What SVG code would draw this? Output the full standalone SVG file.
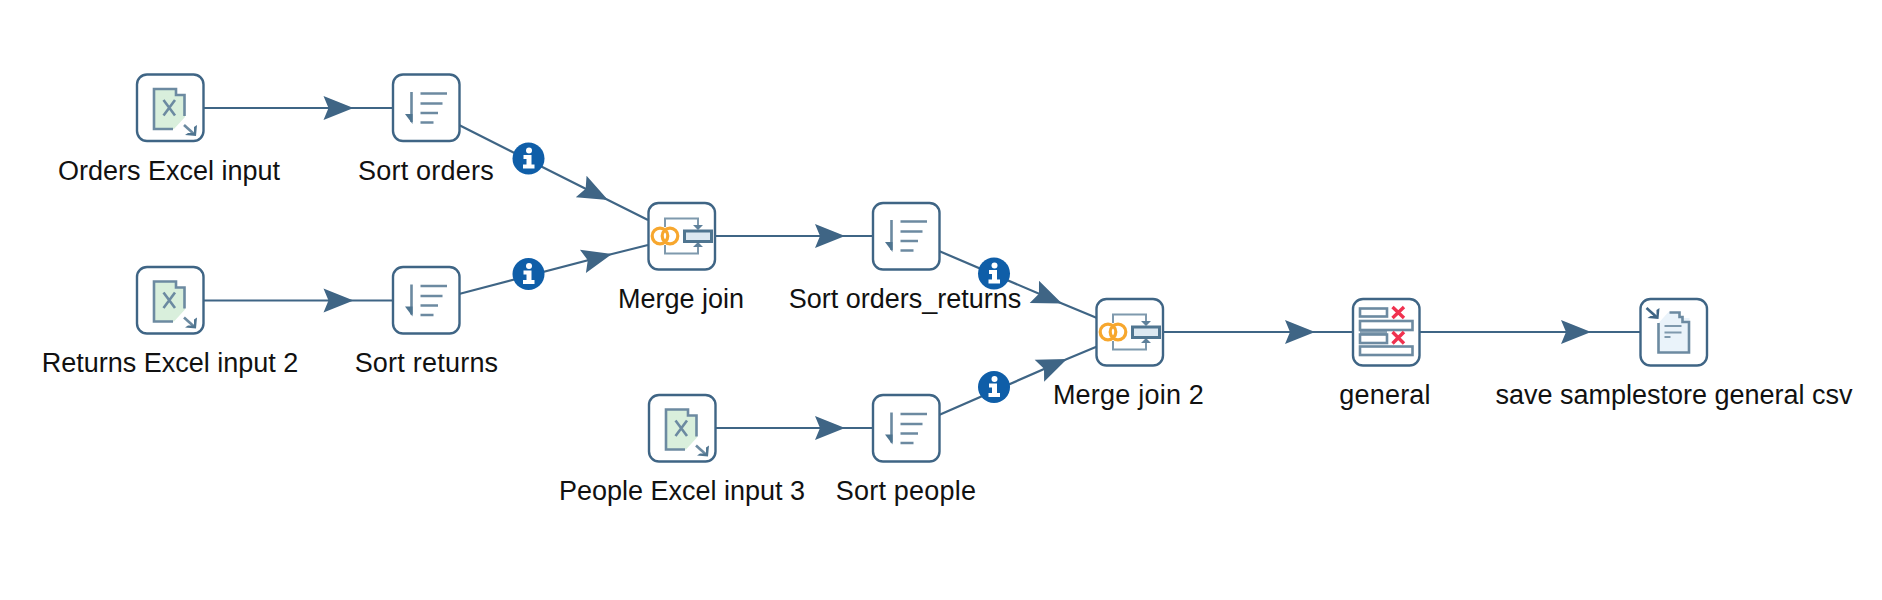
<svg xmlns="http://www.w3.org/2000/svg" width="1882" height="600" viewBox="0 0 1882 600">
<style>
.box{fill:#fff;stroke:#3f6585;stroke-width:2.4}
.lbl{font-family:"Liberation Sans",Arial,sans-serif;font-size:27px;fill:#111;text-anchor:middle}
.sp{letter-spacing:.22px}
.conn{fill:none;stroke:#3f6585;stroke-width:2.2;marker-mid:url(#arrow)}
.ic{fill:none;stroke:#3f6585;stroke-width:2.6}
.il{fill:none;stroke:#6c8aa1;stroke-width:2.6}
.ict{fill:none;stroke:#7f99ad;stroke-width:2}
.ia{fill:#3f6585;stroke:none}
.info{fill:#0f5ea8}
.infot{fill:#fff}
</style>
<defs>
<filter id="soft" x="-10%" y="-10%" width="120%" height="120%"><feGaussianBlur stdDeviation="0.7"/></filter>
<marker id="arrow" markerUnits="userSpaceOnUse" markerWidth="34" markerHeight="28" refX="31" refY="14" orient="auto">
<path d="M31 14L1 2L6 14L1 26Z" fill="#3f6585"/>
</marker>
<symbol id="s-info" overflow="visible">
<circle class="info" r="16"/>
<circle class="infot" cx="0.500" cy="-8" r="3"/>
<path class="infot" d="M-5-3.500H3V6H6V10H-5.500V6H-2V0.500H-5Z"/>
</symbol>
<symbol id="s-excel" overflow="visible"><g filter="url(#soft)">
<path d="M-17-19H6V-13H15V9L4 21H-17Z" fill="#d9efdc"/>
<path class="il" d="M3 21H-16V-19H6V-13H14.500V8"/>
<path d="M-6.500-8L5 7.500M5-8L-6.500 7.500" class="il"/>
<path class="il" d="M14 17L24 26"/>
<path d="M26 28L15 27L18 25L24 25L24 19L27 17Z" fill="#4f7490"/>
</g></symbol>
<symbol id="s-sort" overflow="visible"><g filter="url(#soft)">
<path class="il" d="M-14.500-16V14"/>
<path d="M-21 6L-13.500 6V16Z" fill="#4f7490"/>
<path class="il" d="M-5.500-14.500H21M-5.500-4.500H16.500M-5.500 5H12M-5.500 14.500H7.500"/>
</g></symbol>
<symbol id="s-merge" overflow="visible"><g filter="url(#soft)">
<path class="ict" d="M-16.500-9V-17.500H16.500V-11M-16.500 9V17.500H16.500V11"/>
<circle cx="-21.500" r="7.800" fill="none" stroke="#f7a72e" stroke-width="3.200"/>
<circle cx="-11.500" r="7.800" fill="none" stroke="#f7a72e" stroke-width="3.200"/>
<path d="M11.500-11H21.500L16.500-6ZM11.500 11H21.500L16.500 6Z" fill="#5f819b"/>
<rect x="3" y="-5" width="27" height="10.500" fill="#dce8f1" stroke="#4f7490" stroke-width="3"/>
</g></symbol>
<symbol id="s-filter" overflow="visible"><g filter="url(#soft)">
<rect x="-26" y="-23.500" width="27" height="8" fill="#f1f6fa" class="il"/>
<rect x="-26" y="-2" width="27" height="5" fill="#8ba3b5"/>
<rect x="-26" y="2.500" width="27" height="8.500" fill="#f1f6fa" class="il"/>
<rect x="-26" y="-11" width="52.500" height="9" fill="#d3e6f2" class="il"/>
<rect x="-26" y="14.500" width="52.500" height="8.500" fill="#e6f0f7" class="il"/>
<path d="M6.500-25L18-14M18-25L6.500-14M6.500 0L18 11.500M18 0L6.500 11.500" fill="none" stroke="#f0304f" stroke-width="3.400"/>
</g></symbol>
<symbol id="s-save" overflow="visible"><g filter="url(#soft)">
<path d="M-15-9L-5-20H5V-14H16V21H-15Z" fill="#eaf3fa"/>
<path d="M-15-9V20.500H15.500V-10H9V-15H6V-19.500H-4" class="il"/>
<path d="M-9-6H8M-9 0.500H8" class="ict" stroke-width="2.200"/>
<path d="M-9 5H-3" class="ict" stroke-width="2.200"/>
<path class="ic" d="M-27-24L-17-15"/>
<path class="ia" d="M-15-13L-26-14L-23-16L-17-16L-17-22L-14-24Z"/>
</g></symbol>
</defs>
<rect width="1882" height="600" fill="#fff"/>
<g id="connectors">
<path class="conn" d="M203 108H353.500H393"/>
<path class="conn" d="M459 125L608 200L648 220"/>
<path class="conn" d="M203 300.500H353.500H393"/>
<path class="conn" d="M459 294L612 254L648 245"/>
<path class="conn" d="M715 236H845H873"/>
<path class="conn" d="M939 251L1062 303.500L1097 318"/>
<path class="conn" d="M1162 332H1315H1353"/>
<path class="conn" d="M1419 332H1591H1640"/>
<path class="conn" d="M715 428H845H873"/>
<path class="conn" d="M939 415L1067 359L1097 346.500"/>
<use href="#s-info" x="528.500" y="158.500"/>
<use href="#s-info" x="528.500" y="274"/>
<use href="#s-info" x="994" y="273.500"/>
<use href="#s-info" x="994" y="387"/>
</g>
<g id="n-orders-excel"><rect class="box" x="137" y="74.500" width="66.500" height="66.500" rx="10"/><use href="#s-excel" x="170" y="108"/><text class="lbl" x="169" y="180">Orders Excel input</text></g>
<g id="n-sort-orders"><rect class="box" x="393" y="74.500" width="66.500" height="66.500" rx="10"/><use href="#s-sort" x="426" y="108"/><text class="lbl sp" x="426" y="180">Sort orders</text></g>
<g id="n-returns-excel"><rect class="box" x="137" y="267" width="66.500" height="66.500" rx="10"/><use href="#s-excel" x="170" y="300.500"/><text class="lbl" x="170" y="372">Returns Excel input 2</text></g>
<g id="n-sort-returns"><rect class="box" x="393" y="267" width="66.500" height="66.500" rx="10"/><use href="#s-sort" x="426" y="300.500"/><text class="lbl sp" x="426.500" y="372">Sort returns</text></g>
<g id="n-merge-join"><rect class="box" x="648.500" y="203" width="66.500" height="66.500" rx="10"/><use href="#s-merge" x="681.500" y="236"/><text class="lbl" x="681" y="308">Merge join</text></g>
<g id="n-sort-orders-returns"><rect class="box" x="873" y="203" width="66.500" height="66.500" rx="10"/><use href="#s-sort" x="906" y="236"/><text class="lbl" x="905" y="308">Sort orders_returns</text></g>
<g id="n-merge-join-2"><rect class="box" x="1096.500" y="299" width="66.500" height="66.500" rx="10"/><use href="#s-merge" x="1129.500" y="332"/><text class="lbl sp" x="1128.500" y="404">Merge join 2</text></g>
<g id="n-general"><rect class="box" x="1353" y="299" width="66.500" height="66.500" rx="10"/><use href="#s-filter" x="1386" y="332"/><text class="lbl sp" x="1385" y="404">general</text></g>
<g id="n-save"><rect class="box" x="1640.500" y="299" width="66.500" height="66.500" rx="10"/><use href="#s-save" x="1673.500" y="332"/><text class="lbl" x="1674" y="404">save samplestore general csv</text></g>
<g id="n-people-excel"><rect class="box" x="649" y="395" width="66.500" height="66.500" rx="10"/><use href="#s-excel" x="682" y="428.500"/><text class="lbl" x="682" y="500">People Excel input 3</text></g>
<g id="n-sort-people"><rect class="box" x="873" y="395" width="66.500" height="66.500" rx="10"/><use href="#s-sort" x="906" y="428.500"/><text class="lbl sp" x="906" y="500">Sort people</text></g>
</svg>
